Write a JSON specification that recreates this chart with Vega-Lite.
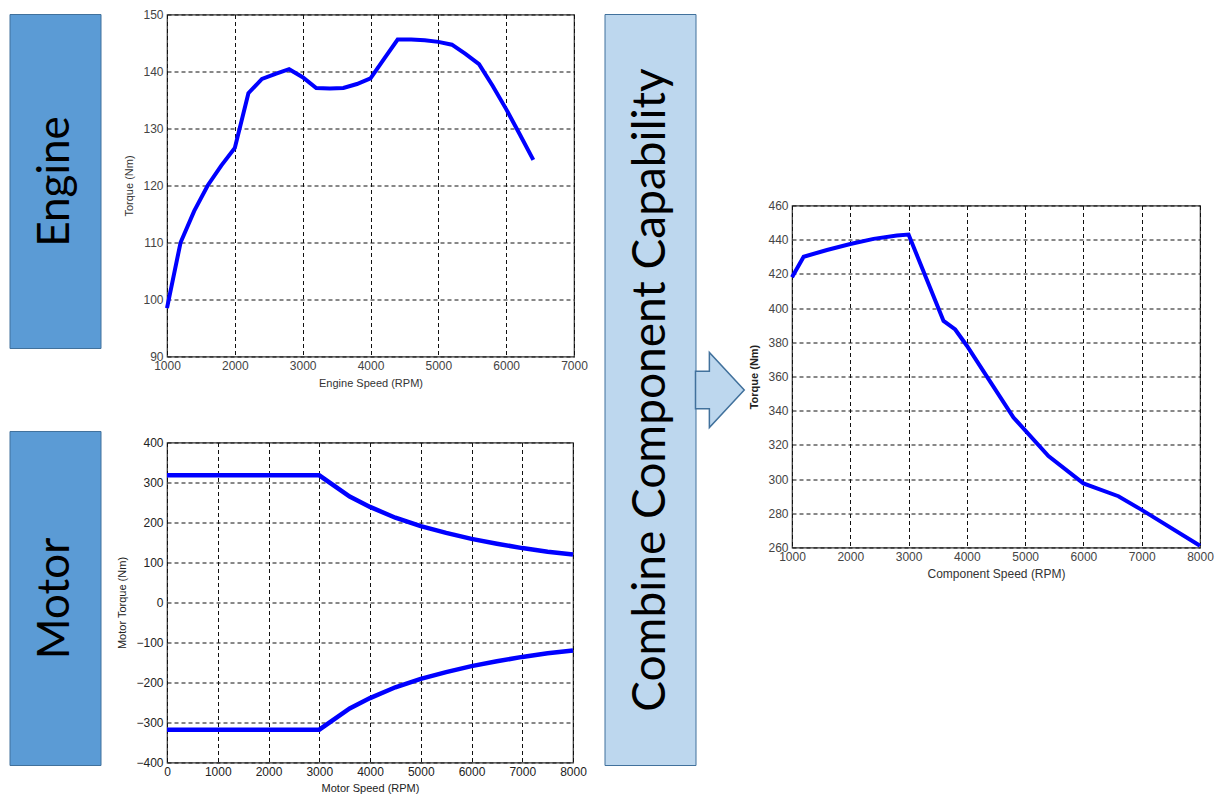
{
  "$schema": "https://vega.github.io/schema/vega-lite/v6.json",
  "background": "white",
  "padding": {"left": 9, "top": 7.5, "right": 4, "bottom": 2},
  "config": {
    "view": {"stroke": null},
    "font": "Liberation Sans",
    "axis": {
      "grid": true,
      "gridColor": "#111111",
      "gridDash": [4, 3],
      "gridWidth": 1,
      "gridOpacity": 1,
      "domain": false,
      "ticks": false,
      "labelFlush": false,
      "labelFont": "Liberation Sans",
      "titleFont": "Liberation Sans",
      "labelFontSize": 12,
      "titleFontSize": 11,
      "titleFontWeight": "normal",
      "labelColor": "#444444",
      "titleColor": "#333333"
    }
  },
  "spacing": 16,
  "hconcat": [
    {
      "spacing": 14,
      "hconcat": [
        {
          "width": 91,
          "height": 751,
          "data": {"values": [{"name": "Engine"}, {"name": "Motor"}]},
          "encoding": {
            "y": {
              "field": "name",
              "type": "nominal",
              "sort": null,
              "axis": null,
              "scale": {"paddingInner": 0.199, "paddingOuter": 0}
            }
          },
          "layer": [
            {"mark": {"type": "rect", "fill": "#5b9bd5", "stroke": "#41719c", "strokeWidth": 1}},
            {
              "mark": {"type": "text", "angle": 270, "font": "Lato", "fontSize": 44, "color": "#000000", "align": "center", "baseline": "middle"},
              "encoding": {"text": {"field": "name"}}
            }
          ]
        },
        {
          "spacing": 46,
          "vconcat": [
            {
              "width": 407,
              "height": 342,
              "view": {"stroke": "#333333", "strokeWidth": 1.2},
              "data": {
                "values": [
                  {"rpm": 1000, "torque": 98.5},
                  {"rpm": 1200, "torque": 110},
                  {"rpm": 1400, "torque": 115.5},
                  {"rpm": 1600, "torque": 120},
                  {"rpm": 1800, "torque": 123.5},
                  {"rpm": 2000, "torque": 126.6},
                  {"rpm": 2200, "torque": 136.2},
                  {"rpm": 2400, "torque": 138.7},
                  {"rpm": 2600, "torque": 139.6},
                  {"rpm": 2800, "torque": 140.4},
                  {"rpm": 3000, "torque": 139},
                  {"rpm": 3200, "torque": 137.1},
                  {"rpm": 3400, "torque": 137},
                  {"rpm": 3600, "torque": 137.1},
                  {"rpm": 3800, "torque": 137.8},
                  {"rpm": 4000, "torque": 138.8},
                  {"rpm": 4200, "torque": 142.2},
                  {"rpm": 4400, "torque": 145.6},
                  {"rpm": 4600, "torque": 145.6},
                  {"rpm": 4800, "torque": 145.5},
                  {"rpm": 5000, "torque": 145.2},
                  {"rpm": 5200, "torque": 144.7},
                  {"rpm": 5400, "torque": 143.1},
                  {"rpm": 5600, "torque": 141.3},
                  {"rpm": 5800, "torque": 137.5},
                  {"rpm": 6000, "torque": 133.4},
                  {"rpm": 6200, "torque": 129},
                  {"rpm": 6400, "torque": 124.5}
                ]
              },
              "mark": {"type": "line", "color": "#0000ff", "strokeWidth": 4},
              "encoding": {
                "x": {
                  "field": "rpm",
                  "type": "quantitative",
                  "scale": {"domain": [1000, 7000], "nice": false, "zero": false},
                  "axis": {"values": [1000, 2000, 3000, 4000, 5000, 6000, 7000], "format": "d", "title": "Engine Speed (RPM)", "labelPadding": 4, "titlePadding": 6}
                },
                "y": {
                  "field": "torque",
                  "type": "quantitative",
                  "scale": {"domain": [90, 150], "nice": false, "zero": false},
                  "axis": {"values": [90, 100, 110, 120, 130, 140, 150], "format": "d", "title": "Torque (Nm)", "labelPadding": 4, "titlePadding": 8}
                }
              }
            },
            {
              "width": 406,
              "height": 320,
              "view": {"stroke": "#333333", "strokeWidth": 1.2},
              "data": {
                "values": [
                  {"rpm": 0, "torque": 318, "curve": "motoring"},
                  {"rpm": 3000, "torque": 318, "curve": "motoring"},
                  {"rpm": 3600, "torque": 265, "curve": "motoring"},
                  {"rpm": 4000, "torque": 239, "curve": "motoring"},
                  {"rpm": 4500, "torque": 212, "curve": "motoring"},
                  {"rpm": 5000, "torque": 191, "curve": "motoring"},
                  {"rpm": 5500, "torque": 174, "curve": "motoring"},
                  {"rpm": 6000, "torque": 159, "curve": "motoring"},
                  {"rpm": 6500, "torque": 147, "curve": "motoring"},
                  {"rpm": 7000, "torque": 136, "curve": "motoring"},
                  {"rpm": 7500, "torque": 127, "curve": "motoring"},
                  {"rpm": 8000, "torque": 120, "curve": "motoring"},
                  {"rpm": 0, "torque": -318, "curve": "generating"},
                  {"rpm": 3000, "torque": -318, "curve": "generating"},
                  {"rpm": 3600, "torque": -265, "curve": "generating"},
                  {"rpm": 4000, "torque": -239, "curve": "generating"},
                  {"rpm": 4500, "torque": -212, "curve": "generating"},
                  {"rpm": 5000, "torque": -191, "curve": "generating"},
                  {"rpm": 5500, "torque": -174, "curve": "generating"},
                  {"rpm": 6000, "torque": -159, "curve": "generating"},
                  {"rpm": 6500, "torque": -147, "curve": "generating"},
                  {"rpm": 7000, "torque": -136, "curve": "generating"},
                  {"rpm": 7500, "torque": -127, "curve": "generating"},
                  {"rpm": 8000, "torque": -120, "curve": "generating"}
                ]
              },
              "mark": {"type": "line", "color": "#0000ff", "strokeWidth": 4.5},
              "encoding": {
                "detail": {"field": "curve", "type": "nominal"},
                "x": {
                  "field": "rpm",
                  "type": "quantitative",
                  "scale": {"domain": [0, 8000], "nice": false},
                  "axis": {"values": [0, 1000, 2000, 3000, 4000, 5000, 6000, 7000, 8000], "format": "d", "title": "Motor Speed (RPM)", "labelColor": "#222222", "titleColor": "#222222", "labelPadding": 4, "titlePadding": 5}
                },
                "y": {
                  "field": "torque",
                  "type": "quantitative",
                  "scale": {"domain": [-400, 400], "nice": false},
                  "axis": {"values": [-400, -300, -200, -100, 0, 100, 200, 300, 400], "format": "d", "title": "Motor Torque (Nm)", "labelColor": "#222222", "titleColor": "#222222", "labelPadding": 4, "titlePadding": 8}
                }
              }
            }
          ]
        }
      ]
    },
    {
      "spacing": 0,
      "hconcat": [
        {
          "width": 91,
          "height": 751,
          "data": {"values": [{"label": "Combine Component Capability"}]},
          "layer": [
            {"mark": {"type": "rect", "fill": "#bdd7ee", "stroke": "#41719c", "strokeWidth": 1}},
            {
              "mark": {
                "type": "point",
                "shape": "M1.2,-0.5L1.57,-0.5L1.57,-1L2.5,0L1.57,1L1.57,0.5L1.2,0.5Z",
                "size": 5625,
                "filled": true,
                "fill": "#bdd7ee",
                "stroke": "#41719c",
                "strokeWidth": 1.5,
                "opacity": 1
              },
              "encoding": {}
            },
            {
              "mark": {"type": "text", "angle": 270, "font": "Lato", "fontSize": 46, "color": "#000000", "align": "center", "baseline": "middle"},
              "encoding": {"text": {"field": "label"}}
            }
          ]
        },
        {
          "spacing": 0,
          "vconcat": [
            {
              "width": 1,
              "height": 184,
              "data": {"values": [{}]},
              "mark": {"type": "rect", "opacity": 0}
            },
            {
              "width": 408,
              "height": 342,
              "view": {"stroke": "#333333", "strokeWidth": 1.2},
              "data": {
                "values": [
                  {"rpm": 1000, "torque": 418},
                  {"rpm": 1200, "torque": 430},
                  {"rpm": 1600, "torque": 434},
                  {"rpm": 2000, "torque": 437.5},
                  {"rpm": 2400, "torque": 440.5},
                  {"rpm": 2800, "torque": 442.5},
                  {"rpm": 3000, "torque": 443},
                  {"rpm": 3600, "torque": 392.5},
                  {"rpm": 3800, "torque": 387.5},
                  {"rpm": 4000, "torque": 378},
                  {"rpm": 4400, "torque": 357},
                  {"rpm": 4800, "torque": 336},
                  {"rpm": 5400, "torque": 313.5},
                  {"rpm": 6000, "torque": 297.5},
                  {"rpm": 6600, "torque": 290},
                  {"rpm": 7000, "torque": 282},
                  {"rpm": 8000, "torque": 261}
                ]
              },
              "mark": {"type": "line", "color": "#0000ff", "strokeWidth": 4},
              "encoding": {
                "x": {
                  "field": "rpm",
                  "type": "quantitative",
                  "scale": {"domain": [1000, 8000], "nice": false, "zero": false},
                  "axis": {"values": [1000, 2000, 3000, 4000, 5000, 6000, 7000, 8000], "format": "d", "title": "Component Speed (RPM)", "titleFontSize": 12, "labelPadding": 4, "titlePadding": 6}
                },
                "y": {
                  "field": "torque",
                  "type": "quantitative",
                  "scale": {"domain": [260, 460], "nice": false, "zero": false},
                  "axis": {"values": [260, 280, 300, 320, 340, 360, 380, 400, 420, 440, 460], "format": "d", "title": "Torque (Nm)", "titleFontWeight": "bold", "titleColor": "#222222", "labelPadding": 4, "titlePadding": 8}
                }
              }
            }
          ]
        }
      ]
    }
  ]
}
